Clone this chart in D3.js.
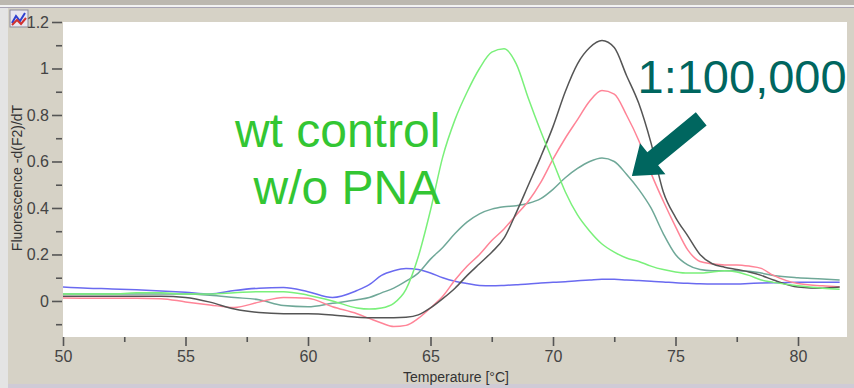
<!DOCTYPE html>
<html>
<head>
<meta charset="utf-8">
<script src="https://cdn.jsdelivr.net/npm/d3@7"></script>
<style>
  body { margin: 0; background: #e4e4e4; }
  svg { display: block; }
</style>
</head>
<body>
<div id="chart"></div>
<script>
// Temperature grid (°C) shared by all melt curves
const temps = [50, 51, 52, 53, 54, 55, 56, 57, 58, 59, 60, 61, 62, 62.5, 63, 63.5, 64, 64.5, 65, 65.5,
  66, 66.5, 67, 67.5, 68, 68.5, 69, 69.5, 70, 70.5, 71, 71.5, 72, 72.5, 73, 73.5, 74, 74.5, 75, 75.5,
  76, 76.5, 77, 77.5, 78, 78.5, 79, 80, 81, 81.7];

// -d(F2)/dT values
const wtControl = [0.03, 0.03, 0.03, 0.035, 0.035, 0.03, 0.03, 0.035, 0.04, 0.04, 0.025, 0.0, -0.03, -0.035, -0.03, -0.01,
  0.05, 0.19, 0.39, 0.62, 0.78, 0.9, 1.0, 1.07, 1.085, 1.02, 0.87, 0.73, 0.6, 0.47, 0.37, 0.3, 0.245, 0.21, 0.185, 0.17,
  0.15, 0.135, 0.125, 0.12, 0.12, 0.125, 0.13, 0.125, 0.11, 0.09, 0.08, 0.065, 0.055, 0.05];
const blackSeries = [0.02, 0.02, 0.02, 0.02, 0.02, 0.015, -0.005, -0.035, -0.05, -0.055, -0.055, -0.06, -0.07, -0.072, -0.072, -0.072,
  -0.07, -0.06, -0.03, 0.01, 0.055, 0.11, 0.16, 0.21, 0.27, 0.38, 0.5, 0.62, 0.75, 0.9, 1.02, 1.09, 1.12, 1.09, 0.97, 0.85,
  0.68, 0.47, 0.36, 0.28, 0.2, 0.16, 0.145, 0.135, 0.125, 0.11, 0.09, 0.06, 0.055, 0.06];
const pinkSeries = [0.013, 0.012, 0.012, 0.012, 0.01, -0.004, -0.017, -0.028, -0.005, 0.015, 0.012, -0.025, -0.055, -0.075, -0.095, -0.11,
  -0.105, -0.075, -0.03, 0.02, 0.09, 0.15, 0.2, 0.26, 0.31, 0.37, 0.43, 0.51, 0.61, 0.7, 0.78, 0.86, 0.905, 0.89, 0.8, 0.69,
  0.55, 0.43, 0.32, 0.22, 0.17, 0.16, 0.155, 0.155, 0.15, 0.14, 0.11, 0.075, 0.065, 0.06];
const tealSeries = [0.03, 0.03, 0.03, 0.03, 0.03, 0.03, 0.025, 0.015, 0.005, -0.02, -0.025, -0.01, 0.005, 0.015, 0.035, 0.055,
  0.085, 0.12, 0.18, 0.23, 0.29, 0.34, 0.375, 0.395, 0.405, 0.41, 0.42, 0.44, 0.48, 0.53, 0.57, 0.6, 0.615, 0.6, 0.545, 0.48,
  0.4, 0.29, 0.2, 0.155, 0.135, 0.13, 0.13, 0.13, 0.128, 0.12, 0.11, 0.1, 0.095, 0.09];
const blueSeries = [0.06, 0.055, 0.052, 0.048, 0.043, 0.037, 0.03, 0.045, 0.055, 0.058, 0.04, 0.015, 0.045, 0.07, 0.11, 0.13,
  0.14, 0.135, 0.12, 0.1, 0.085, 0.075, 0.067, 0.065, 0.067, 0.07, 0.073, 0.077, 0.08, 0.083, 0.087, 0.09, 0.093, 0.093, 0.09, 0.088,
  0.085, 0.082, 0.078, 0.076, 0.074, 0.073, 0.073, 0.073, 0.075, 0.077, 0.078, 0.08, 0.08, 0.08];

const seriesNames = ["blue", "teal", "pink", "black", "wt"];
const seriesColors = ["#6a6af0", "#6fa898", "#ff8497", "#555555", "#7af07a"];
const seriesValues = [blueSeries, tealSeries, pinkSeries, blackSeries, wtControl];

// Axis ticks
const xMajorTicks = [50, 55, 60, 65, 70, 75, 80];
const xMinorTicks = [52.5, 57.5, 62.5, 67.5, 72.5, 77.5];
const yMajorTicks = [0, 0.2, 0.4, 0.6, 0.8, 1, 1.2];
const yMinorTicks = [-0.1, 0.1, 0.3, 0.5, 0.7, 0.9, 1.1];
const yTickLabels = ["0", "0.2", "0.4", "0.6", "0.8", "1", "1.2"];

// Annotations (data coordinates)
const wtLabelLines = ["wt control", "w/o PNA"];
const wtLabelPos = [{ t: 65.4, f: 0.662 }, { t: 65.4, f: 0.417 }];
const dilutionLabel = "1:100,000";
const dilutionPos = { t: 73.45, f: 0.895 };
const arrowFrom = { t: 76.05, f: 0.783 };
const arrowTo = { t: 73.22, f: 0.538 };

const W = 854, H = 388;
const plot = { left: 63, right: 847, top: 22, bottom: 337 };

const svg = d3.select("#chart").append("svg")
  .attr("width", W)
  .attr("height", H);

// window chrome / panel background
svg.append("rect").attr("x", 0).attr("y", 0).attr("width", W).attr("height", H).attr("fill", "#e4e4e4");
svg.append("rect").attr("x", 8).attr("y", 0).attr("width", W - 8).attr("height", H).attr("fill", "#d6d2c6");
svg.append("rect").attr("x", 0).attr("y", 0).attr("width", W).attr("height", 5).attr("fill", "#bcb8b0");
svg.append("rect").attr("x", 0).attr("y", 5).attr("width", W).attr("height", 2).attr("fill", "#f2f2f2");
svg.append("rect").attr("x", 0).attr("y", 7).attr("width", W).attr("height", 1).attr("fill", "#a8a4b4");
svg.append("rect").attr("x", 0).attr("y", 8).attr("width", 8).attr("height", H).attr("fill", "#e4e4e4");
svg.append("rect").attr("x", 8).attr("y", 384).attr("width", W - 8).attr("height", 4).attr("fill", "#cfcbd6");

// small chart icon top-left
const icon = svg.append("g").attr("transform", "translate(10,10)");
icon.append("rect").attr("width", 18).attr("height", 17).attr("fill", "#e8e6f0").attr("stroke", "#8a8a9a");
icon.append("polyline").attr("points", "2,13 6,6 10,11 15,3").attr("fill", "none").attr("stroke", "#3040d0").attr("stroke-width", 2);
icon.append("polyline").attr("points", "2,15 7,10 11,14 16,8").attr("fill", "none").attr("stroke", "#d03030").attr("stroke-width", 2);

// plot area
svg.append("rect")
  .attr("x", plot.left).attr("y", plot.top)
  .attr("width", plot.right - plot.left).attr("height", plot.bottom - plot.top)
  .attr("fill", "#ffffff");

const x = d3.scaleLinear().domain([50, 82]).range([plot.left, plot.right]);
const y = d3.scaleLinear().domain([-0.155, 1.2]).range([plot.bottom, plot.top]);

const tickFont = "'Liberation Sans Narrow', 'Arial Narrow', 'Liberation Sans', sans-serif";

// x axis
const xAxisMajor = d3.axisBottom(x).tickValues(xMajorTicks).tickSize(9).tickPadding(5).tickFormat(d3.format("d"));
const xAxisMinor = d3.axisBottom(x).tickValues(xMinorTicks).tickSize(5).tickFormat("");
const gx = svg.append("g").attr("transform", "translate(0," + plot.bottom + ")").call(xAxisMajor);
const gxm = svg.append("g").attr("transform", "translate(0," + plot.bottom + ")").call(xAxisMinor);

// y axis
const yAxisMajor = d3.axisLeft(y).tickValues(yMajorTicks).tickSize(10).tickPadding(3)
  .tickFormat((d, i) => yTickLabels[i]);
const yAxisMinor = d3.axisLeft(y).tickValues(yMinorTicks).tickSize(6).tickFormat("");
const gy = svg.append("g").attr("transform", "translate(" + (plot.left - 1) + ",0)").call(yAxisMajor);
const gym = svg.append("g").attr("transform", "translate(" + (plot.left - 1) + ",0)").call(yAxisMinor);

[gx, gxm, gy, gym].forEach(g => {
  g.select(".domain").remove();
  g.selectAll(".tick line").attr("stroke", "#555").attr("stroke-width", 1.6);
  g.selectAll(".tick text")
    .attr("fill", "#444")
    .style("font-family", tickFont)
    .style("font-size", "16px");
});

// axis titles
svg.append("text")
  .attr("x", 456).attr("y", 382)
  .attr("text-anchor", "middle")
  .attr("fill", "#333")
  .style("font-family", tickFont)
  .style("font-size", "14px")
  .text("Temperature [°C]");

svg.append("text")
  .attr("transform", "translate(22,178) rotate(-90)")
  .attr("text-anchor", "middle")
  .attr("fill", "#333")
  .style("font-family", tickFont)
  .style("font-size", "14px")
  .text("Fluorescence -d(F2)/dT");

// melt curves
const line = d3.line()
  .x((d, i) => x(temps[i]))
  .y(d => y(d))
  .curve(d3.curveMonotoneX);

svg.append("g").selectAll("path")
  .data(seriesValues)
  .join("path")
  .attr("class", (d, i) => "curve " + seriesNames[i])
  .attr("d", line)
  .attr("fill", "none")
  .attr("stroke", (d, i) => seriesColors[i])
  .attr("stroke-width", 1.5);

// annotations
svg.append("g").selectAll("text")
  .data(wtLabelLines)
  .join("text")
  .attr("x", (d, i) => x(wtLabelPos[i].t))
  .attr("y", (d, i) => y(wtLabelPos[i].f))
  .attr("text-anchor", "end")
  .attr("fill", "#33c633")
  .style("font-family", "'Liberation Sans', Arial, sans-serif")
  .style("font-size", "48px")
  .text(d => d);

svg.append("text")
  .attr("x", x(dilutionPos.t))
  .attr("y", y(dilutionPos.f))
  .attr("fill", "#00665f")
  .style("font-family", "'Liberation Sans', Arial, sans-serif")
  .style("font-size", "47px")
  .text(dilutionLabel);

// thick arrow
const ax0 = x(arrowFrom.t), ay0 = y(arrowFrom.f);
const ax1 = x(arrowTo.t), ay1 = y(arrowTo.f);
const len = Math.hypot(ax1 - ax0, ay1 - ay0);
const ang = Math.atan2(ay1 - ay0, ax1 - ax0) * 180 / Math.PI;
const shaftW = 17, headW = 40, headL = 27;
svg.append("path")
  .attr("transform", "translate(" + ax0 + "," + ay0 + ") rotate(" + ang + ")")
  .attr("d", "M0," + (-shaftW / 2) + "L" + (len - headL) + "," + (-shaftW / 2) +
    "L" + (len - headL) + "," + (-headW / 2) + "L" + len + ",0" +
    "L" + (len - headL) + "," + (headW / 2) + "L" + (len - headL) + "," + (shaftW / 2) +
    "L0," + (shaftW / 2) + "Z")
  .attr("fill", "#00665f");
</script>
</body>
</html>
